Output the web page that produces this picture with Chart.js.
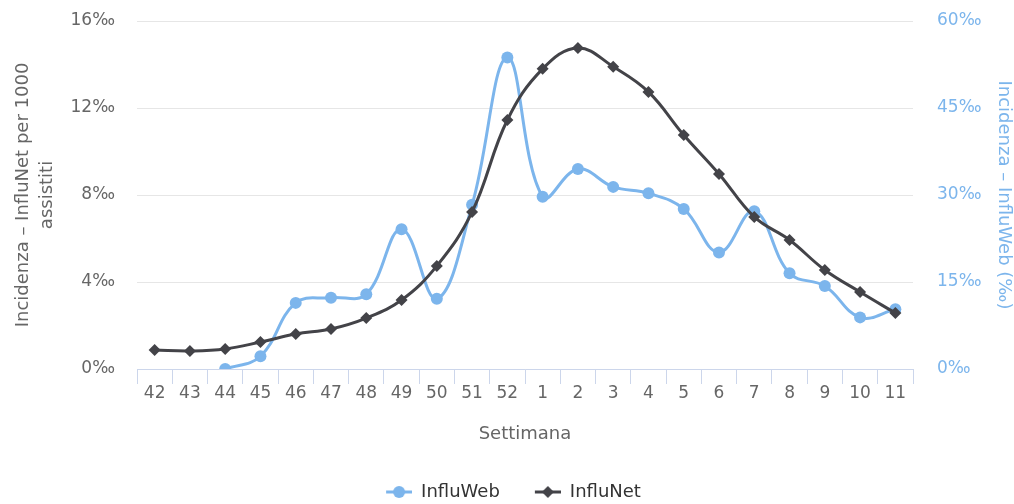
<!DOCTYPE html>
<html>
<head>
<meta charset="utf-8">
<script src="https://cdn.jsdelivr.net/npm/chart.js@4.4.0/dist/chart.umd.min.js"></script>
<style>
  html, body { margin: 0; padding: 0; background: #fff; }
  canvas { display: block; }
</style>
</head>
<body>
<canvas id="chart" width="1014" height="504"></canvas>
<script>
// settimane 42..52 e 1..11
const weeks = ['42','43','44','45','46','47','48','49','50','51','52','1','2','3','4','5','6','7','8','9','10','11'];
// InfluWeb (asse destro, ‰)
const influWeb = [null, null, 0, 2.2, 11.4, 12.3, 12.9, 24.1, 12.1, 28.3, 53.7, 29.7, 34.5, 31.4, 30.3, 27.6, 20.1, 27.2, 16.5, 14.3, 8.9, 10.3];
// InfluNet (asse sinistro, per 1000 assistiti)
const influNet = [0.87, 0.83, 0.92, 1.24, 1.61, 1.84, 2.34, 3.17, 4.74, 7.22, 11.45, 13.8, 14.76, 13.9, 12.74, 10.76, 8.97, 6.99, 5.93, 4.55, 3.54, 2.57];
const leftTicks = [0, 4, 8, 12, 16];
const rightTicks = [0, 15, 30, 45, 60];

const FONT = 'DejaVu Sans';
const webColor = '#7cb5ec';
const netColor = '#434348';

// legend symbol: short line with the marker in the middle (13px empty on the left = item gap)
function legendSymbol(color, shape) {
  const c = document.createElement('canvas');
  c.width = 39; c.height = 14;
  const g = c.getContext('2d');
  g.strokeStyle = color;
  g.lineWidth = 3;
  g.beginPath(); g.moveTo(13, 7); g.lineTo(39, 7); g.stroke();
  g.fillStyle = color;
  g.beginPath();
  if (shape === 'circle') {
    g.arc(26, 7, 6, 0, Math.PI * 2);
  } else {
    g.moveTo(26, 1); g.lineTo(32, 7); g.lineTo(26, 13); g.lineTo(20, 7); g.closePath();
  }
  g.fill();
  return c;
}
const symbols = [legendSymbol(webColor, 'circle'), legendSymbol(netColor, 'diamond')];

new Chart(document.getElementById('chart'), {
  type: 'line',
  data: {
    labels: weeks,
    datasets: [
      {
        label: 'InfluWeb',
        data: influWeb,
        yAxisID: 'yWeb',
        borderColor: webColor,
        backgroundColor: webColor,
        borderWidth: 3,
        pointRadius: 6,
        pointHoverRadius: 6,
        pointStyle: 'circle',
        pointBorderWidth: 0,
        tension: 0.4,
        order: 2
      },
      {
        label: 'InfluNet',
        data: influNet,
        yAxisID: 'yNet',
        borderColor: netColor,
        backgroundColor: netColor,
        borderWidth: 3,
        pointRadius: 6,
        pointHoverRadius: 6,
        pointStyle: 'rectRot',
        pointBorderWidth: 0,
        tension: 0.4,
        order: 1
      }
    ]
  },
  options: {
    responsive: false,
    devicePixelRatio: 1,
    animation: false,
    layout: { padding: { top: 21, left: 0, right: 0, bottom: -7 } },
    plugins: {
      tooltip: { enabled: false },
      legend: {
        position: 'bottom',
        labels: {
          font: { family: FONT, size: 18 },
          color: '#333',
          usePointStyle: true,
          pointStyleWidth: 39,
          boxHeight: 14,
          padding: 22,
          generateLabels(chart) {
            const items = Chart.defaults.plugins.legend.labels.generateLabels(chart);
            items.forEach(it => { it.pointStyle = symbols[it.datasetIndex]; });
            return items;
          },
          sort: (a, b) => a.datasetIndex - b.datasetIndex
        }
      }
    },
    scales: {
      x: {
        offset: true,
        grid: {
          offset: true,
          drawOnChartArea: false,
          drawTicks: true,
          tickLength: 15,
          color: '#ccd6eb'
        },
        border: { color: '#ccd6eb', width: 1 },
        ticks: { font: { family: FONT, size: 17 }, color: '#666', padding: -1, maxRotation: 0, autoSkip: false },
        title: {
          display: true,
          text: 'Settimana',
          font: { family: FONT, size: 18 },
          color: '#666',
          padding: { top: 0, bottom: 16 }
        },
        afterFit(scale) { scale.height = 92; }
      },
      yNet: {
        position: 'left',
        min: 0,
        max: 16,
        afterBuildTicks(scale) { scale.ticks = leftTicks.map(v => ({ value: v })); },
        grid: { color: '#e6e6e6', drawTicks: true, tickLength: 22, tickColor: 'rgba(0,0,0,0)' },
        border: { display: false },
        ticks: {
          font: { family: FONT, size: 17 },
          color: '#666',
          padding: 0,
          callback: v => v + '‰'
        },
        title: {
          display: true,
          text: ['Incidenza – InfluNet per 1000', 'assistiti'],
          font: { family: FONT, size: 18, lineHeight: 1.333 },
          color: '#666',
          padding: { top: 11, bottom: 0 }
        },
        afterFit(scale) { scale.width = 137; }
      },
      yWeb: {
        position: 'right',
        min: 0,
        max: 60,
        afterBuildTicks(scale) { scale.ticks = rightTicks.map(v => ({ value: v })); },
        grid: { drawOnChartArea: false, drawTicks: true, tickLength: 24, tickColor: 'rgba(0,0,0,0)' },
        border: { display: false },
        ticks: {
          font: { family: FONT, size: 17 },
          color: webColor,
          padding: 0,
          callback: v => v + '‰'
        },
        title: {
          display: true,
          text: 'Incidenza – InfluWeb (‰)',
          font: { family: FONT, size: 18, lineHeight: 1 },
          color: webColor,
          padding: { top: 1, bottom: 0 }
        },
        afterFit(scale) { scale.width = 101; }
      }
    }
  }
});
</script>
</body>
</html>
